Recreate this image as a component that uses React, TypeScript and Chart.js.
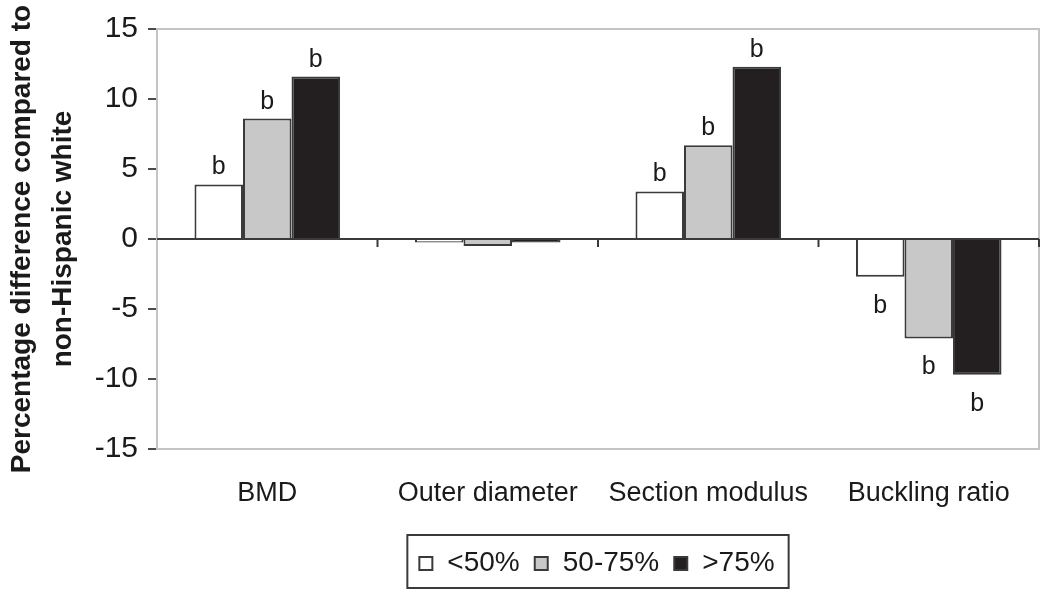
import React, { useEffect, useRef } from 'react';
import { Chart, registerables } from 'chart.js';

Chart.register(...registerables);

const categories = ['BMD', 'Outer diameter', 'Section modulus', 'Buckling ratio'];
const seriesNames = ['<50%', '50-75%', '>75%'];
const under50 = [3.9, -0.25, 3.4, -2.7];
const mid5075 = [8.6, -0.5, 6.7, -7.1];
const over75 = [11.6, -0.25, 12.3, -9.7];
const sigUnder50 = ['b', '', 'b', 'b'];
const sigMid5075 = ['b', '', 'b', 'b'];
const sigOver75 = ['b', '', 'b', 'b'];
const yTickValues = [-15, -10, -5, 0, 5, 10, 15];
const yTitle = ['Percentage difference compared to', 'non-Hispanic white'];

const FONT = '"Liberation Sans", Arial, Helvetica, sans-serif';
const fills = ['#ffffff', '#c8c8c8', '#231f20'];
const BORDER = '#3a3a3a';

export default function App() {
  const ref = useRef<HTMLCanvasElement | null>(null);

  useEffect(() => {
    const canvas = ref.current;
    if (!canvas) return;
    const sigs = [sigUnder50, sigMid5075, sigOver75];

    const framePlugin = {
      id: 'frame',
      beforeDatasetsDraw(chart: any) {
        const { ctx, chartArea: a } = chart;
        ctx.save();
        ctx.strokeStyle = '#c4c4c4';
        ctx.lineWidth = 2;
        ctx.strokeRect(a.left, a.top, a.right - a.left, a.bottom - a.top);
        ctx.restore();
      },
    };

    const zeroPlugin = {
      id: 'zeroLine',
      afterDatasetsDraw(chart: any) {
        const { ctx, chartArea: a, scales } = chart;
        const y0 = scales.y.getPixelForValue(0);
        ctx.save();
        ctx.strokeStyle = '#3a3a3a';
        ctx.lineWidth = 2;
        ctx.beginPath();
        ctx.moveTo(a.left, y0);
        ctx.lineTo(a.right, y0);
        const n = categories.length;
        for (let i = 1; i <= n; i++) {
          const x = i === n ? a.right : (scales.x.getPixelForValue(i - 1) + scales.x.getPixelForValue(i)) / 2;
          ctx.moveTo(x, y0);
          ctx.lineTo(x, y0 + 8);
        }
        ctx.stroke();
        ctx.restore();
      },
    };

    const sigPlugin = {
      id: 'sigLabels',
      afterDatasetsDraw(chart: any) {
        const { ctx } = chart;
        ctx.save();
        ctx.font = `25px ${FONT}`;
        ctx.fillStyle = '#1a1a1a';
        ctx.textAlign = 'center';
        ctx.textBaseline = 'alphabetic';
        chart.data.datasets.forEach((ds: any, di: number) => {
          const meta = chart.getDatasetMeta(di);
          meta.data.forEach((el: any, i: number) => {
            const t = sigs[di][i];
            if (!t) return;
            const v = ds.data[i];
            const y = v >= 0 ? el.y - 10 : el.y + 36;
            ctx.fillText(t, el.x, y);
          });
        });
        ctx.restore();
      },
    };

    const legendPlugin = {
      id: 'boxLegend',
      afterDraw(chart: any) {
        const { ctx, chartArea: a } = chart;
        ctx.save();
        ctx.font = `28px ${FONT}`;
        const padL = 12, padR = 14, sq = 13, gapST = 15, gapItem = 15;
        const widths = chart.data.datasets.map((d: any) => ctx.measureText(d.label).width);
        let total = padL + padR + gapItem * (widths.length - 1);
        widths.forEach((w: number) => (total += sq + gapST + w));
        const cx = (a.left + a.right) / 2;
        const boxL = cx - total / 2;
        const boxT = a.bottom + 86;
        const boxH = 53;
        ctx.strokeStyle = '#3a3a3a';
        ctx.lineWidth = 2;
        ctx.strokeRect(boxL, boxT, total, boxH);
        const cy = boxT + boxH / 2 + 2;
        let x = boxL + padL;
        chart.data.datasets.forEach((d: any, i: number) => {
          ctx.fillStyle = d.backgroundColor;
          ctx.fillRect(x, cy - sq / 2, sq, sq);
          ctx.strokeStyle = '#3a3a3a';
          ctx.lineWidth = 2;
          ctx.strokeRect(x, cy - sq / 2, sq, sq);
          x += sq + gapST;
          ctx.fillStyle = '#1a1a1a';
          ctx.textAlign = 'left';
          ctx.textBaseline = 'middle';
          ctx.fillText(d.label, x, cy);
          x += widths[i] + gapItem;
        });
        ctx.restore();
      },
    };

    const chart = new Chart(canvas, {
      type: 'bar',
      data: {
        labels: categories,
        datasets: [under50, mid5075, over75].map((vals, i) => ({
          label: seriesNames[i],
          data: vals,
          backgroundColor: fills[i],
          borderColor: BORDER,
          borderWidth: 2,
          categoryPercentage: 0.66,
          barPercentage: 1.0,
        })),
      },
      options: {
        responsive: false,
        animation: false,
        layout: { padding: { top: 29, right: 11, left: 0, bottom: 0 } },
        plugins: {
          legend: { display: false },
          tooltip: { enabled: false },
        },
        scales: {
          x: {
            grid: { display: false, drawTicks: false },
            border: { display: false },
            ticks: {
              font: { family: FONT, size: 27 },
              color: '#1a1a1a',
              padding: 28,
              maxRotation: 0,
            },
            afterFit(scale: any) {
              scale.height = 147;
            },
          },
          y: {
            min: -15,
            max: 15,
            afterBuildTicks(scale: any) {
              scale.ticks = yTickValues.map((v) => ({ value: v }));
            },
            grid: {
              drawOnChartArea: false,
              drawTicks: true,
              tickLength: 9,
              color: '#4a4a4a',
              lineWidth: 2,
            },
            border: { display: true, color: '#c4c4c4', width: 2 },
            ticks: {
              font: { family: FONT, size: 30 },
              color: '#1a1a1a',
              padding: 10,
            },
            title: {
              display: true,
              text: yTitle,
              font: { family: FONT, size: 28, weight: 'bold', lineHeight: 1.45 },
              color: '#1a1a1a',
              padding: { top: 2, bottom: 0 },
            },
            afterFit(scale: any) {
              scale.width = 157;
            },
          },
        },
      },
      plugins: [framePlugin, zeroPlugin, sigPlugin, legendPlugin],
    } as any);

    return () => chart.destroy();
  }, []);

  return (
    <div style={{ position: 'fixed', left: 0, top: 0, width: 1050, height: 596, background: '#fff' }}>
      <canvas ref={ref} width={1050} height={596} style={{ display: 'block' }} />
    </div>
  );
}
